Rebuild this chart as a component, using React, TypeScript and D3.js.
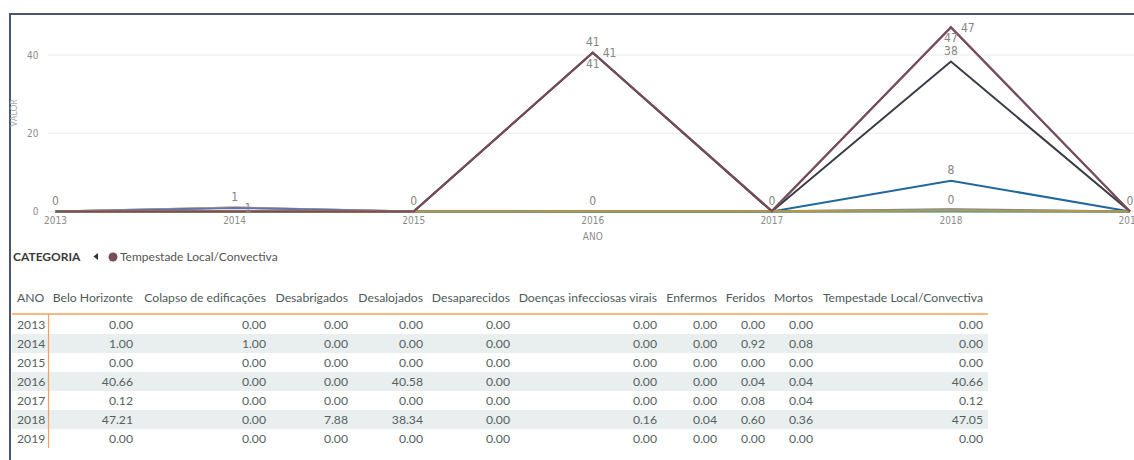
import React from "react";
import * as d3 from "d3";

// Anos e categorias do relatório
const ANOS = [2013, 2014, 2015, 2016, 2017, 2018, 2019];
const CATEGORIAS = [
  "Belo Horizonte",
  "Colapso de edificações",
  "Desabrigados",
  "Desalojados",
  "Desaparecidos",
  "Doenças infecciosas virais",
  "Enfermos",
  "Feridos",
  "Mortos",
  "Tempestade Local/Convectiva",
];

// Valores por categoria, na ordem de ANOS
const beloHorizonte = [0, 1, 0, 40.66, 0.12, 47.21, 0];
const colapsoEdificacoes = [0, 1, 0, 0, 0, 0, 0];
const desabrigados = [0, 0, 0, 0, 0, 7.88, 0];
const desalojados = [0, 0, 0, 40.58, 0, 38.34, 0];
const desaparecidos = [0, 0, 0, 0, 0, 0, 0];
const doencasVirais = [0, 0, 0, 0, 0, 0.16, 0];
const enfermos = [0, 0, 0, 0, 0, 0.04, 0];
const feridos = [0, 0.92, 0, 0.04, 0.08, 0.6, 0];
const mortos = [0, 0.08, 0, 0.04, 0.04, 0.36, 0];
const tempestade = [0, 0, 0, 40.66, 0.12, 47.05, 0];

const VALORES = [
  beloHorizonte,
  colapsoEdificacoes,
  desabrigados,
  desalojados,
  desaparecidos,
  doencasVirais,
  enfermos,
  feridos,
  mortos,
  tempestade,
];

const Y_TICKS = [0, 20, 40];

// Rótulos de dados exibidos: categoria, ano e lado do ponto
const ROTULOS: { cat: number; ano: number; lado: "acima" | "direita" | "abaixo" }[] = [
  { cat: 9, ano: 2013, lado: "acima" },
  { cat: 0, ano: 2014, lado: "acima" },
  { cat: 7, ano: 2014, lado: "direita" },
  { cat: 9, ano: 2015, lado: "acima" },
  { cat: 0, ano: 2016, lado: "acima" },
  { cat: 9, ano: 2016, lado: "direita" },
  { cat: 3, ano: 2016, lado: "abaixo" },
  { cat: 8, ano: 2016, lado: "acima" },
  { cat: 9, ano: 2017, lado: "acima" },
  { cat: 9, ano: 2018, lado: "direita" },
  { cat: 0, ano: 2018, lado: "abaixo" },
  { cat: 3, ano: 2018, lado: "acima" },
  { cat: 2, ano: 2018, lado: "acima" },
  { cat: 8, ano: 2018, lado: "acima" },
  { cat: 9, ano: 2019, lado: "acima" },
];

const CORES = [
  "#6171a8",
  "#e2bd6a",
  "#22689c",
  "#393c45",
  "#9aa3ad",
  "#7f8c4a",
  "#5e9ea0",
  "#6474aa",
  "#b39b45",
  "#7c4c56",
];

const W = 1134;
const H = 460;

const FONTE_UI = "'Segoe UI', Lato, 'Open Sans', sans-serif";
const FONTE_DIN = "DIN, 'Liberation Sans Narrow', 'DejaVu Sans Condensed', sans-serif";

// Borda direita de cada coluna da tabela (após ANO)
const COL_DIREITA = [133, 266, 348, 423, 510, 657, 717, 765, 813, 983];

export default function App() {
  const x = d3.scaleLinear().domain([2013, 2019]).range([55.5, 1130]);
  const y = d3.scaleLinear().domain([0, 50]).range([211.5, 16]);

  const linha = d3
    .line<number>()
    .x((_, i) => x(ANOS[i]))
    .y((v) => y(v));

  const fmtRotulo = d3.format(".0f");
  const fmtTabela = d3.format(".2f");

  const topoTabela = 314;
  const alturaLinha = 19;

  return (
    <svg
      width={W}
      height={H}
      style={{ position: "absolute", left: 0, top: 0, background: "#fff" }}
    >
      {/* moldura */}
      <line x1={10} x2={W} y1={14} y2={14} stroke="#4a566c" strokeWidth={2} />
      <line x1={10} x2={10} y1={13} y2={H} stroke="#4a566c" strokeWidth={2} />

      {/* grade e eixo Y */}
      {Y_TICKS.map((t) => (
        <g key={t}>
          <line x1={48} x2={W} y1={y(t)} y2={y(t)} stroke="#ececec" strokeWidth={1} />
          <text
            x={38.5}
            y={y(t) + 3.5}
            textAnchor="end"
            fontSize={10}
            fill="#8c8c8c"
            fontFamily={FONTE_DIN}
          >
            {t}
          </text>
        </g>
      ))}
      <text
        transform={`translate(17,113) rotate(-90)`}
        textAnchor="middle"
        fontSize={8.5}
        fill="#aaaaaa"
        fontFamily={FONTE_UI}
      >
        VALOR
      </text>

      {/* eixo X */}
      {ANOS.map((a) => (
        <text
          key={a}
          x={x(a)}
          y={224}
          textAnchor="middle"
          fontSize={10}
          fill="#8c8c8c"
          fontFamily={FONTE_DIN}
        >
          {a}
        </text>
      ))}
      <text
        x={x(2016)}
        y={240}
        textAnchor="middle"
        fontSize={10}
        fill="#8c8c8c"
        fontFamily={FONTE_DIN}
      >
        ANO
      </text>

      {/* séries */}
      {VALORES.map((vals, i) => (
        <path
          key={CATEGORIAS[i]}
          d={linha(vals) ?? ""}
          fill="none"
          stroke={CORES[i]}
          strokeWidth={2}
          strokeLinejoin="miter"
        />
      ))}

      {/* rótulos de dados */}
      {ROTULOS.map((r, k) => {
        const idx = ANOS.indexOf(r.ano);
        const v = VALORES[r.cat][idx];
        const px = x(r.ano);
        const py = y(v);
        let tx = px;
        let ty = py - 6.5;
        let anchor = "middle";
        if (r.lado === "direita") {
          tx = px + 10;
          ty = py + 4.5;
          anchor = "start";
        } else if (r.lado === "abaixo") {
          ty = py + 15.5;
        }
        return (
          <text
            key={k}
            x={tx}
            y={ty}
            textAnchor={anchor}
            fontSize={12}
            fill="#858585"
            fontFamily={FONTE_DIN}
          >
            {fmtRotulo(v)}
          </text>
        );
      })}

      {/* legenda */}
      <text x={13} y={261} fontSize={12} fontWeight={700} fill="#3a3a3a" fontFamily={FONTE_UI}>
        CATEGORIA
      </text>
      <path d="M 93.5 256.5 L 98 253 L 98 260 Z" fill="#333" />
      <circle cx={113} cy={257} r={4.5} fill={CORES[9]} />
      <text x={120} y={261} fontSize={12} fill="#555" fontFamily={FONTE_UI}>
        {CATEGORIAS[9]}
      </text>

      {/* tabela */}
      {ANOS.map((a, r) =>
        r % 2 === 1 ? (
          <rect
            key={"f" + a}
            x={12}
            y={topoTabela + 1 + r * alturaLinha}
            width={976}
            height={alturaLinha}
            fill="#e9eeee"
          />
        ) : null
      )}
      <text x={17} y={302} fontSize={12.2} fill="#4e5a5a" fontFamily={FONTE_UI}>
        ANO
      </text>
      {CATEGORIAS.map((c, i) => (
        <text
          key={"h" + c}
          x={COL_DIREITA[i]}
          y={302}
          textAnchor="end"
          fontSize={12.2}
          fill="#4e5a5a"
          fontFamily={FONTE_UI}
        >
          {c}
        </text>
      ))}
      <line x1={12} x2={988} y1={topoTabela} y2={topoTabela} stroke="#f5a05a" strokeWidth={1.5} />
      <line
        x1={48.5}
        x2={48.5}
        y1={topoTabela}
        y2={topoTabela + 1 + ANOS.length * alturaLinha}
        stroke="#f5a05a"
        strokeWidth={1.2}
      />
      {ANOS.map((a, r) => {
        const base = topoTabela + 1 + r * alturaLinha + 14;
        return (
          <g key={"r" + a}>
            <text x={17} y={base} fontSize={12.2} fill="#556262" fontFamily={FONTE_UI}>
              {a}
            </text>
            {VALORES.map((vals, i) => (
              <text
                key={i}
                x={COL_DIREITA[i]}
                y={base}
                textAnchor="end"
                fontSize={12.2}
                fill="#556262"
                fontFamily={FONTE_UI}
              >
                {fmtTabela(vals[r])}
              </text>
            ))}
          </g>
        );
      })}
    </svg>
  );
}
